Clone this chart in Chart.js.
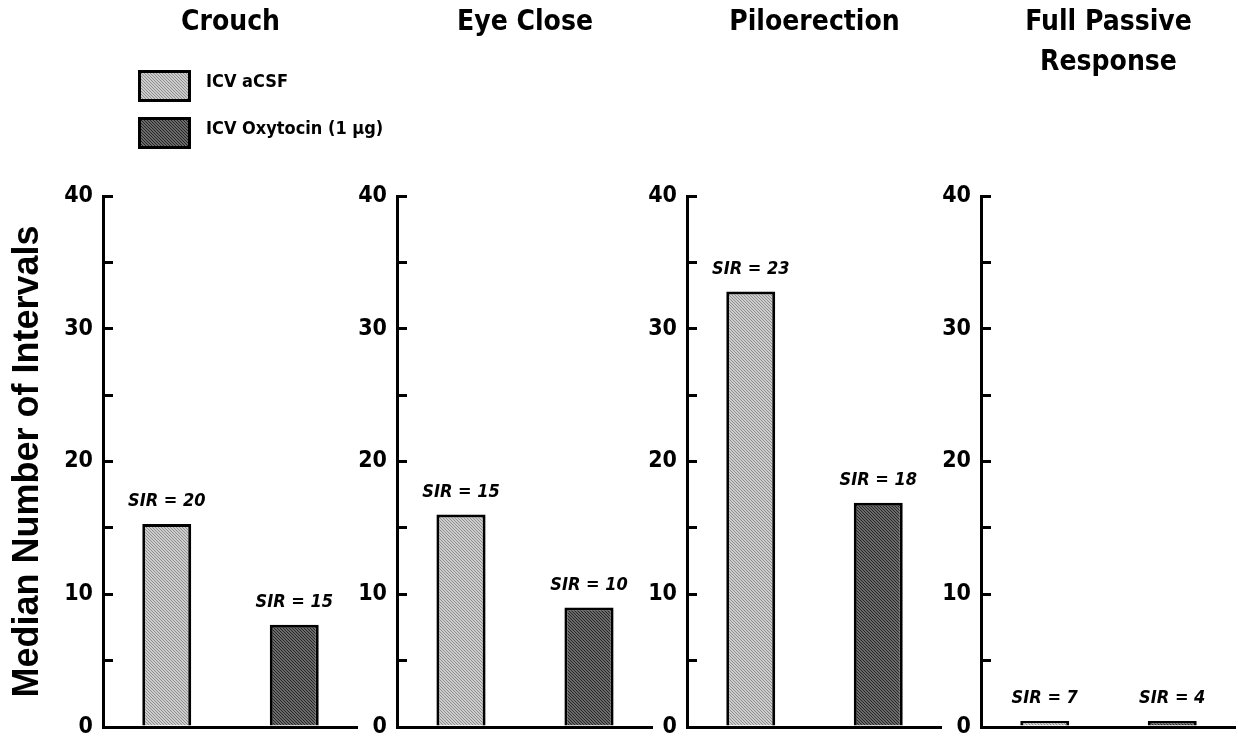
<!DOCTYPE html>
<html>
<head>
<meta charset="utf-8">
<title>Median Number of Intervals</title>
<script src="https://cdn.jsdelivr.net/npm/chart.js"></script>
<style>
html, body { margin: 0; padding: 0; background: #fff; overflow: hidden; }
body { width: 1238px; height: 740px; position: relative; }
canvas { position: absolute; top: 0; }
.key { position: absolute; left: 138px; width: 53px; height: 32px; box-sizing: border-box; border: 3px solid #000; }
.keyText { position: absolute; left: 206px; height: 32px; line-height: 32px; font: bold 18px 'DejaVu Sans Condensed', 'Liberation Sans', sans-serif; color: #000; white-space: nowrap; }
</style>
</head>
<body>
<canvas id="p0" width="358" height="763" style="left:0px"></canvas>
<canvas id="p1" width="296" height="763" style="left:357px"></canvas>
<canvas id="p2" width="295" height="763" style="left:647px"></canvas>
<canvas id="p3" width="295" height="763" style="left:941px"></canvas>

<div class="key" id="k0" style="top:70px"></div>
<div class="keyText" style="top:70px">ICV aCSF</div>
<div class="key" id="k1" style="top:117px"></div>
<div class="keyText" style="top:117px">ICV Oxytocin (1 μg)</div>

<script>
const panelTitles = ["Crouch", "Eye Close", "Piloerection", ["Full Passive", "Response"]];
const groups = ["ICV aCSF", "ICV Oxytocin (1 μg)"];
const acsfMedian = [15.3, 16.0, 32.8, 0.45];
const oxytocinMedian = [7.7, 9.0, 16.9, 0.45];
const acsfSIR = [20, 15, 23, 7];
const oxytocinSIR = [15, 10, 18, 4];
const yMin = 0, yMax = 40, yStep = 5;

const narrow = "'DejaVu Sans Condensed', 'Liberation Sans', sans-serif";

// fine diagonal hatch like the printed fills
function hatch(base, line) {
  const c = document.createElement("canvas");
  c.width = 3; c.height = 3;
  const g = c.getContext("2d");
  g.fillStyle = base;
  g.fillRect(0, 0, 3, 3);
  g.fillStyle = line;
  for (let i = 0; i < 3; i++) g.fillRect(i, i, 1, 1);
  return c;
}
const lightTile = hatch("#cdcdcd", "#8e8e8e");
const darkTile = hatch("#6a6a6a", "#262626");

document.getElementById("k0").style.background = "url(" + lightTile.toDataURL() + ")";
document.getElementById("k1").style.background = "url(" + darkTile.toDataURL() + ")";

const sirLabels = {
  id: "sirLabels",
  afterDatasetsDraw(chart) {
    const ctx = chart.ctx;
    const sir = chart.options.plugins.sirLabels.values;
    const meta = chart.getDatasetMeta(0);
    ctx.save();
    ctx.font = "italic bold 18px " + narrow;
    ctx.fillStyle = "#000";
    ctx.textAlign = "center";
    ctx.textBaseline = "alphabetic";
    meta.data.forEach((bar, i) => {
      ctx.fillText("SIR = " + sir[i], bar.x, bar.y - 18);
    });
    ctx.restore();
  }
};

function makePanel(i) {
  const ctx = document.getElementById("p" + i).getContext("2d");
  const first = i === 0;
  const twoLines = Array.isArray(panelTitles[i]);
  new Chart(ctx, {
    type: "bar",
    data: {
      labels: groups,
      datasets: [{
        data: [acsfMedian[i], oxytocinMedian[i]],
        backgroundColor: [ctx.createPattern(lightTile, "repeat"), ctx.createPattern(darkTile, "repeat")],
        borderColor: "#000",
        borderWidth: 3,
        borderSkipped: "start",
        barPercentage: 0.384,
        categoryPercentage: 1
      }]
    },
    options: {
      responsive: false,
      animation: false,
      devicePixelRatio: 1,
      layout: { padding: 0 },
      plugins: {
        legend: { display: false },
        tooltip: { enabled: false },
        title: {
          display: true,
          text: panelTitles[i],
          fullSize: false,
          color: "#000",
          font: { family: narrow, size: 28, weight: "bold", lineHeight: "40px" },
          padding: { top: 3, bottom: twoLines ? 113 : 153 }
        },
        sirLabels: { values: [acsfSIR[i], oxytocinSIR[i]] }
      },
      scales: {
        x: {
          type: "category",
          offset: true,
          grid: { display: false },
          ticks: { display: false },
          border: { display: true, color: "#000", width: 3 },
          afterFit(s) { s.height = 36; }
        },
        y: {
          min: yMin,
          max: yMax,
          ticks: {
            stepSize: yStep,
            color: "#000",
            padding: 20,
            font: { family: narrow, size: 23, weight: "bold" },
            callback: (v) => (v % 10 === 0 ? v : "")
          },
          grid: {
            drawOnChartArea: false,
            drawTicks: true,
            tickLength: -10,
            color: "#000",
            lineWidth: 3
          },
          border: { display: true, color: "#000", width: 3 },
          title: {
            display: first,
            text: "Median Number of Intervals",
            color: "#000",
            font: { family: "'Liberation Sans', Arial, sans-serif", size: 36, weight: "bold" },
            padding: { top: 6, bottom: 0 }
          },
          afterFit(s) { s.width = first ? 103 : 40; }
        }
      }
    },
    plugins: [sirLabels]
  });
}

for (let i = 0; i < panelTitles.length; i++) makePanel(i);
</script>
</body>
</html>
